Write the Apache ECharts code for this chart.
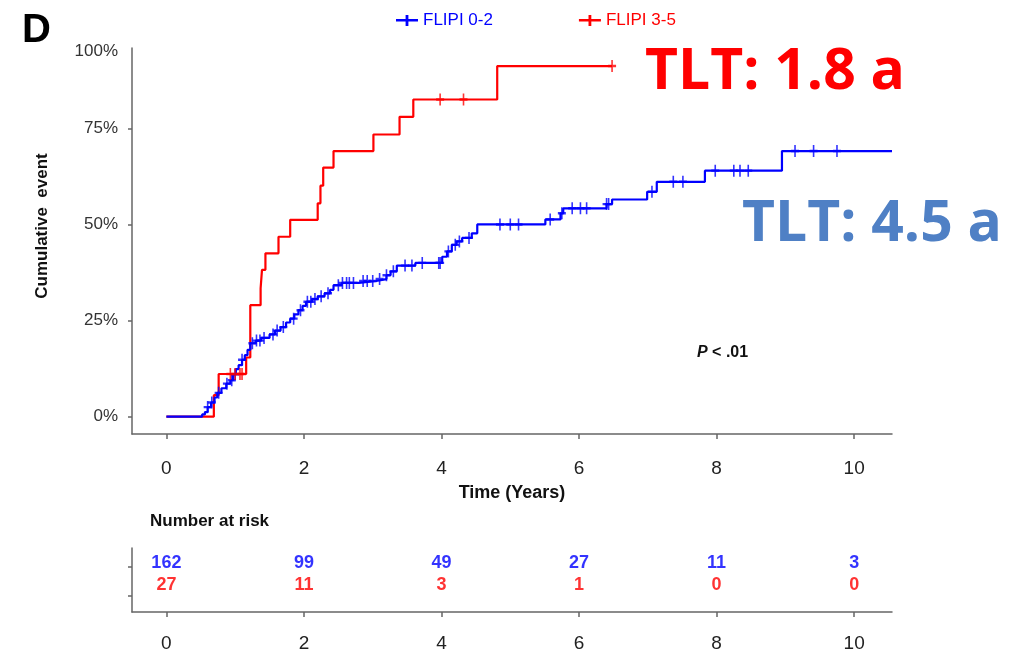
<!DOCTYPE html>
<html>
<head>
<meta charset="utf-8">
<script src="https://cdn.jsdelivr.net/npm/echarts@6/dist/echarts.min.js"></script>
<style>
  html, body { margin: 0; padding: 0; background: #fff; }
  #chart { width: 1011px; height: 653px; }
</style>
</head>
<body>
<div id="chart"></div>
<script>
// Kaplan-Meier style cumulative event curves: [time in years, cumulative event %]
const lowRiskSteps = [
  [0, 0], [0.52, 0.6], [0.56, 1.2], [0.6, 2.5], [0.65, 3.7], [0.7, 5.0], [0.74, 6.2],
  [0.8, 7.4], [0.87, 8.6], [0.93, 9.5], [0.97, 11.0], [1.01, 12.4], [1.05, 13.4],
  [1.1, 14.8], [1.14, 16.0], [1.18, 17.4], [1.22, 19.1], [1.3, 19.8], [1.38, 20.5],
  [1.5, 21.4], [1.58, 22.4], [1.66, 23.3], [1.74, 24.5], [1.8, 25.5], [1.86, 26.6],
  [1.92, 27.7], [1.98, 28.8], [2.03, 29.9], [2.12, 30.6], [2.2, 31.3], [2.3, 32.1],
  [2.38, 33.0], [2.43, 34.2], [2.55, 34.8], [2.8, 35.3], [3.05, 35.8], [3.2, 36.8],
  [3.26, 37.8], [3.35, 39.3], [3.62, 40.0], [4.01, 41.6], [4.08, 43.0], [4.15, 44.7],
  [4.22, 45.6], [4.3, 46.5], [4.44, 47.7], [4.52, 50.0], [5.51, 51.3], [5.73, 52.9],
  [5.77, 54.2], [6.4, 55.3], [6.48, 56.5], [6.99, 58.5], [7.13, 61.1], [7.83, 64.0],
  [8.95, 69.1], [10.55, 69.1]
];
const highRiskSteps = [
  [0, 0], [0.69, 5.6], [0.76, 11.1], [1.16, 15.4], [1.22, 29.0], [1.37, 33.4],
  [1.39, 38.2], [1.44, 42.5], [1.63, 46.8], [1.8, 51.2], [2.2, 55.5], [2.24, 60.1],
  [2.28, 64.8], [2.43, 69.1], [3.01, 73.4], [3.39, 78.0], [3.59, 82.5], [4.81, 91.2],
  [6.48, 91.2]
];

// Censoring times (years)
const lowRiskCensored = [
  0.6, 0.66, 0.76, 0.88, 0.95, 1.0, 1.1, 1.25, 1.31, 1.36, 1.42, 1.55, 1.61, 1.7,
  1.85, 1.95, 2.05, 2.1, 2.16, 2.25, 2.35, 2.5, 2.56, 2.62, 2.66, 2.72, 2.86, 2.92,
  3.0, 3.1, 3.2, 3.3, 3.47, 3.57, 3.72, 3.96, 3.98, 4.1, 4.2, 4.26, 4.4, 4.85, 5.0,
  5.12, 5.58, 5.75, 5.9, 6.02, 6.11, 6.4, 6.43, 7.06, 7.37, 7.51, 7.98, 8.25, 8.34,
  8.46, 9.14, 9.41, 9.75
];
const highRiskCensored = [0.93, 1.0, 1.07, 1.1, 3.98, 4.32, 6.48];

// Number at risk table
const riskTimes = [0, 2, 4, 6, 8, 10];
const riskLow = [162, 99, 49, 27, 11, 3];
const riskHigh = [27, 11, 3, 1, 0, 0];

// Axis tick labels
const xTicks = [0, 2, 4, 6, 8, 10];
const yTickLabels = ['0%', '25%', '50%', '75%', '100%'];

const seriesNames = ['FLIPI 0-2', 'FLIPI 3-5'];
const BLUE = '#0000FF';
const RED = '#FF0000';
const SANS = '"Liberation Sans", Arial, sans-serif';

const CROSS = 'path://M0,4L10,4L10,6L0,6Z M4,0L6,0L6,10L4,10Z';
const LEGEND_CROSS = 'path://M0,4L22,4L22,6.6L0,6.6Z M9.6,0L12.4,0L12.4,11L9.6,11Z';

// value of a step curve at time t
function stepValueAt(steps, t) {
  let v = 0;
  for (const [st, sv] of steps) {
    if (st <= t + 1e-9) v = sv; else break;
  }
  return v;
}

const chart = echarts.init(document.getElementById('chart'), null, { renderer: 'canvas' });

const axisLineStyle = { color: '#666', width: 1.5 };

const option = {
  animation: false,
  backgroundColor: '#fff',
  legend: {
    left: 391,
    top: 7,
    itemGap: 86,
    itemWidth: 22,
    itemHeight: 11,
    selectedMode: false,
    textStyle: { fontSize: 17, fontFamily: SANS },
    data: [
      { name: seriesNames[0], icon: LEGEND_CROSS, textStyle: { color: BLUE } },
      { name: seriesNames[1], icon: LEGEND_CROSS, textStyle: { color: RED } }
    ]
  },
  grid: [
    { left: 132, right: 119, top: 48, bottom: 219 },
    { left: 132, right: 119, top: 548, bottom: 40 }
  ],
  xAxis: [
    {
      gridIndex: 0, type: 'value', min: -0.5, max: 10.55,
      name: 'Time (Years)', nameLocation: 'middle', nameGap: 50,
      nameTextStyle: { fontFamily: SANS, fontWeight: 'bold', fontSize: 18, color: '#111' },
      axisLine: { onZero: false, lineStyle: axisLineStyle },
      axisTick: { show: true, length: 5, customValues: xTicks, lineStyle: axisLineStyle },
      axisLabel: { customValues: xTicks, margin: 25, fontFamily: SANS, fontSize: 19, color: '#222' },
      splitLine: { show: false }
    },
    {
      gridIndex: 1, type: 'value', min: -0.5, max: 10.55,
      axisLine: { onZero: false, lineStyle: axisLineStyle },
      axisTick: { show: true, length: 5, customValues: xTicks, lineStyle: axisLineStyle },
      axisLabel: { customValues: xTicks, margin: 22, fontFamily: SANS, fontSize: 19, color: '#222' },
      splitLine: { show: false }
    }
  ],
  yAxis: [
    {
      gridIndex: 0, type: 'value', min: -4.5, max: 95.9,
      axisLine: { onZero: false, lineStyle: axisLineStyle },
      axisTick: { show: true, length: 4, customValues: [0, 25, 50, 75], lineStyle: axisLineStyle },
      axisLabel: {
        customValues: [0, 25, 50, 75, 95.0],
        margin: 14, fontFamily: SANS, fontSize: 17, color: '#333',
        formatter: v => (v > 90 ? yTickLabels[4] : yTickLabels[Math.round(v / 25)])
      },
      splitLine: { show: false }
    },
    {
      gridIndex: 1, type: 'value', min: 0, max: 4,
      axisLine: { onZero: false, lineStyle: axisLineStyle },
      axisTick: { show: true, length: 4, customValues: [1, 2.85], lineStyle: axisLineStyle },
      axisLabel: { show: false },
      splitLine: { show: false }
    }
  ],
  series: [
    {
      name: seriesNames[0], type: 'line', step: 'end', xAxisIndex: 0, yAxisIndex: 0,
      showSymbol: false, color: BLUE, lineStyle: { color: BLUE, width: 2.2 },
      data: lowRiskSteps, z: 3
    },
    {
      name: seriesNames[1], type: 'line', step: 'end', xAxisIndex: 0, yAxisIndex: 0,
      showSymbol: false, color: RED, lineStyle: { color: RED, width: 2.2 },
      data: highRiskSteps, z: 2
    },
    {
      name: 'censored-low', type: 'scatter', xAxisIndex: 0, yAxisIndex: 0,
      symbol: CROSS, symbolSize: [8, 12], itemStyle: { color: BLUE },
      data: lowRiskCensored.map(t => [t, stepValueAt(lowRiskSteps, t)]), z: 4
    },
    {
      name: 'censored-high', type: 'scatter', xAxisIndex: 0, yAxisIndex: 0,
      symbol: CROSS, symbolSize: [8, 12], itemStyle: { color: RED },
      data: highRiskCensored.map(t => [t, stepValueAt(highRiskSteps, t)]), z: 4
    },
    {
      name: 'risk-low', type: 'scatter', xAxisIndex: 1, yAxisIndex: 1,
      symbolSize: 0,
      label: {
        show: true, position: 'inside', formatter: p => String(p.value[2]),
        color: BLUE, fontFamily: SANS, fontWeight: 'bold', fontSize: 18
      },
      data: riskTimes.map((t, i) => [t, 3.05, riskLow[i]])
    },
    {
      name: 'risk-high', type: 'scatter', xAxisIndex: 1, yAxisIndex: 1,
      symbolSize: 0,
      label: {
        show: true, position: 'inside', formatter: p => String(p.value[2]),
        color: RED, fontFamily: SANS, fontWeight: 'bold', fontSize: 18
      },
      data: riskTimes.map((t, i) => [t, 1.7, riskHigh[i]])
    }
  ],
  graphic: [
    {
      type: 'text', left: 22, top: 11,
      style: { text: 'D', fontFamily: SANS, fontWeight: 'bold', fontSize: 40, fill: '#000' }
    },
    {
      type: 'text', x: 42, y: 226, rotation: Math.PI / 2,
      style: {
        text: 'Cumulative  event', fontFamily: SANS, fontWeight: 'bold', fontSize: 17,
        fill: '#111', textAlign: 'center', textVerticalAlign: 'middle'
      }
    },
    {
      type: 'text', left: 645, top: 44,
      style: { text: 'TLT: 1.8 a', fontFamily: '"Open Sans", sans-serif', fontWeight: 'bold', fontSize: 57, fill: RED }
    },
    {
      type: 'text', left: 742, top: 196,
      style: { text: 'TLT: 4.5 a', fontFamily: '"Open Sans", sans-serif', fontWeight: 'bold', fontSize: 57, fill: '#4F80C5' }
    },
    {
      type: 'text', left: 697, top: 345,
      style: {
        text: '{p|P} < .01',
        fontFamily: SANS, fontWeight: 'bold', fontSize: 16, fill: '#111',
        rich: { p: { fontStyle: 'italic', fontWeight: 'bold', fontFamily: SANS, fontSize: 16, fill: '#111' } }
      }
    },
    {
      type: 'text', left: 150, top: 513,
      style: { text: 'Number at risk', fontFamily: SANS, fontWeight: 'bold', fontSize: 17, fill: '#111' }
    }
  ]
};

chart.setOption(option);
</script>
</body>
</html>
